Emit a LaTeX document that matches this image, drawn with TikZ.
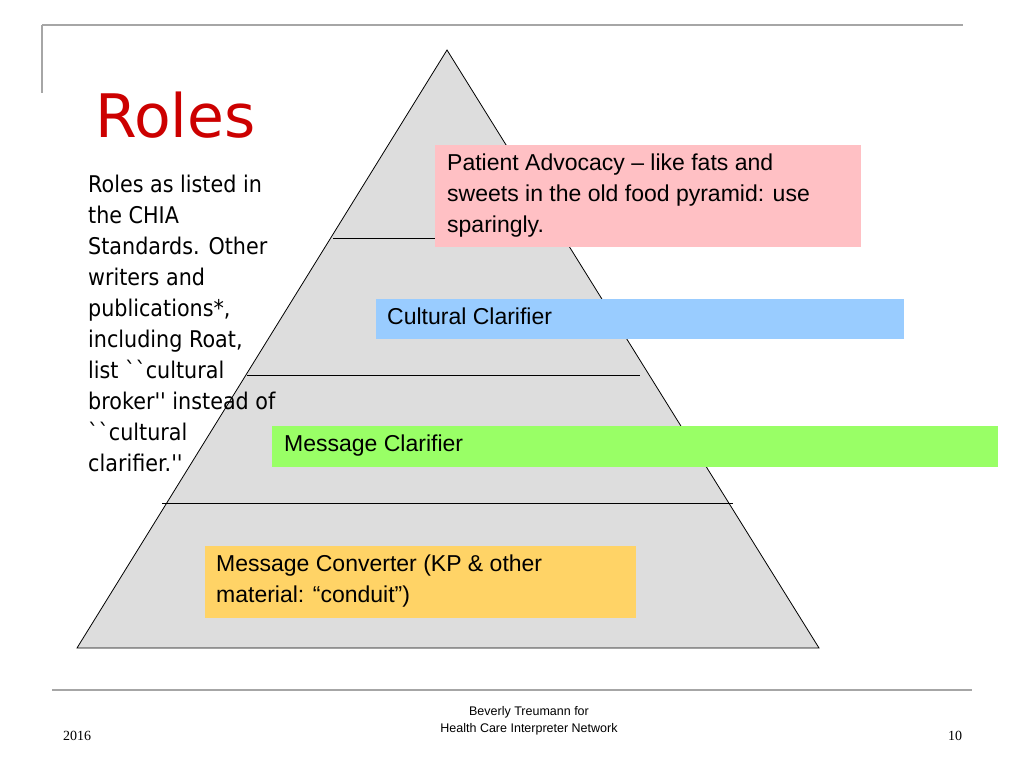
\documentclass[tikz,border=0pt]{standalone}
\usepackage{fontspec}
\setmainfont{Liberation Sans}
\newfontfamily\tahoma{DejaVu Sans}
\newfontfamily\timesf{Liberation Serif}
\definecolor{titlered}{HTML}{CC0000}
\definecolor{pinkbox}{HTML}{FFC0C4}
\definecolor{bluebox}{HTML}{99CCFF}
\definecolor{greenbox}{HTML}{99FF66}
\definecolor{yellowbox}{HTML}{FFD366}
\definecolor{pyrfill}{HTML}{DDDDDD}
\tikzset{
  rolebox/.style = {rectangle, anchor=north west, inner sep=0pt, align=left},
  roletext/.style = {anchor=north west, inner sep=0pt, align=left, font=\fontsize{23}{31}\selectfont},
  rule/.style = {draw=gray!70, line width=2.5pt},
  tier/.style = {draw=black, line width=0.8pt}
}
\begin{document}
\begin{tikzpicture}[x=1pt, y=-1pt]
\useasboundingbox (0,0) rectangle (1024,768);

% slide frame
\draw[rule] (42,25) -- (963,25);
\draw[rule] (42,25) -- (42,93);
\draw[rule] (52,690) -- (972,690);

% pyramid
\coordinate (apex) at (447,50);
\coordinate (baseL) at (77,648);
\coordinate (baseR) at (819,648);
\draw[tier, fill=pyrfill] (apex) -- (baseR) -- (baseL) -- cycle;
\draw[tier] (333,238) -- (560,238);
\draw[tier] (247,375) -- (640,375);
\draw[tier] (162,503) -- (733,503);

% role boxes
\fill[pinkbox] (435,145) rectangle (861,247);
\node[roletext] (advocacy) at (447,154) {Patient Advocacy -- like fats and\\sweets in the old food pyramid: use\\sparingly.};
\fill[bluebox] (376,299) rectangle (904,339);
\node[roletext] (cultural) at (387,308) {Cultural Clarifier};
\fill[greenbox] (272,426) rectangle (998,467);
\node[roletext] (message) at (284,435) {Message Clarifier};
\fill[yellowbox] (205,546) rectangle (636,618);
\node[roletext] (converter) at (216,555) {Message Converter (KP \& other\\material: ``conduit'')};

% title and side text
\node[anchor=west, inner sep=0pt, text=titlered, font=\tahoma\fontsize{60}{60}\selectfont] (title) at (95,115) {Roles};
\node[anchor=north west, inner sep=0pt, align=left, font=\tahoma\fontsize{23}{31}\selectfont, xscale=0.9] (side) at (88,175)
  {Roles as listed in\\the CHIA\\Standards. Other\\writers and\\publications*,\\including Roat,\\list ``cultural\\broker'' instead of\\``cultural\\clarifier.''};

% footer
\node[font=\timesf\fontsize{14}{14}\selectfont] (year) at (77,736) {2016};
\node[font=\timesf\fontsize{14}{14}\selectfont] (page) at (955,736) {10};
\node[align=center, font=\fontsize{12.5}{17}\selectfont] (credit) at (529,721) {Beverly Treumann for\\Health Care Interpreter Network};
\end{tikzpicture}
\end{document}
